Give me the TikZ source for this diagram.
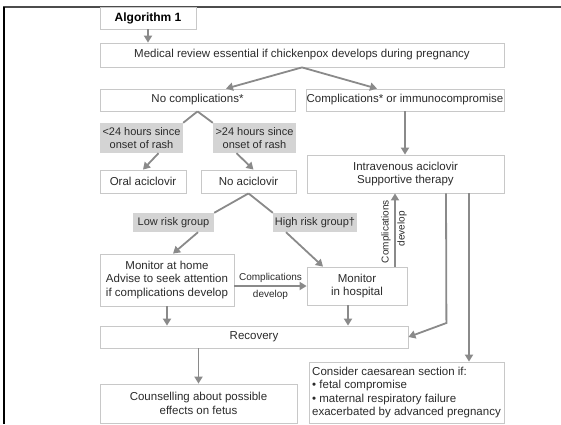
\documentclass[tikz,border=0pt]{standalone}
\usepackage{fontspec}
\setmainfont{Liberation Sans}
\usetikzlibrary{arrows.meta,calc}
\definecolor{boxgray}{HTML}{C8C8C8}
\definecolor{shade}{HTML}{D4D4D4}
\definecolor{arrgray}{HTML}{8A8A8A}
\definecolor{txt}{HTML}{2A2A2A}
\begin{document}
\begin{tikzpicture}[x=1pt,y=-1pt,
  font=\fontsize{11.5}{13.6}\selectfont, text=txt,
  box/.style={draw=boxgray, line width=0.8pt, inner sep=0pt, align=center},
  shbox/.style={fill=shade, inner sep=0pt, align=center, font=\fontsize{11}{13}\selectfont},
  arr/.style={draw=arrgray, line width=1.8pt, -{Triangle[length=7pt,width=8pt]}},
  ln/.style={draw=arrgray, line width=1.8pt},
  lab/.style={font=\fontsize{10}{11}\selectfont, inner sep=0pt}]
\useasboundingbox (0,0) rectangle (561,424);
% frame
\draw[black!70, line width=1.5pt] (3,7) -- (561,7);
\draw[black, line width=2pt] (4,7) -- (4,424);
% nodes
\node[box, minimum width=96pt, minimum height=22pt, font=\fontsize{12}{14}\selectfont\bfseries, text=black] (alg) at (148,18) {Algorithm 1};
\node[box, minimum width=404pt, minimum height=24pt] (med) at (302,55) {Medical review essential if chickenpox develops during pregnancy};
\node[box, minimum width=195pt, minimum height=22pt] (nocomp) at (197.5,100) {No complications*};
\node[box, minimum width=198pt, minimum height=22pt] (comp) at (405,100) {Complications* or immunocompromise};
\node[shbox, minimum width=83pt, minimum height=30pt] (lt24) at (141.5,138) {<24 hours since\\onset of rash};
\node[shbox, minimum width=83pt, minimum height=30pt] (gt24) at (254.5,138) {>24 hours since\\onset of rash};
\node[box, minimum width=86pt, minimum height=23pt] (oral) at (143,181.5) {Oral aciclovir};
\node[box, minimum width=95pt, minimum height=23pt] (noacv) at (248.5,181.5) {No aciclovir};
\node[box, minimum width=197pt, minimum height=38pt] (iv) at (405.5,174) {Intravenous aciclovir\\Supportive therapy};
\node[shbox, minimum width=81pt, minimum height=19pt] (low) at (173.5,222.5) {Low risk group};
\node[shbox, minimum width=84pt, minimum height=19pt] (high) at (315,222.5) {High risk group†};
\node[box, minimum width=134pt, minimum height=52pt] (home) at (167,280) {Monitor at home\\Advise to seek attention\\if complications develop};
\node[box, minimum width=100pt, minimum height=38pt] (hosp) at (357,286) {Monitor\\in hospital};
\node[box, minimum width=308pt, minimum height=22pt] (rec) at (254,337) {Recovery};
\node[box, minimum width=197pt, minimum height=39pt] (couns) at (198.5,403.5) {Counselling about possible\\effects on fetus};
\node[box, align=left, minimum width=195pt, minimum height=61pt] (cons) at (406.5,392.5) {Consider caesarean section if:\\• fetal compromise\\• maternal respiratory failure\\exacerbated by advanced pregnancy};
% connectors
\draw[arr] (alg.south) -- (alg.south |- med.north);
\draw[arr] (med.south) -- ($(nocomp.north)+(28.5,0)$);
\draw[arr] (med.south) -- ($(comp.north)+(-28,0)$);
\draw[ln] (nocomp.south) -- (lt24.north east);
\draw[ln] (nocomp.south) -- (gt24.north west);
\draw[arr] ($(lt24.south)+(17,0)$) -- (oral.north);
\draw[arr] ($(gt24.south)+(-18,0)$) -- ($(noacv.north)+(5,0)$);
\draw[arr] (comp.south) -- (comp.south |- iv.north);
\draw[ln] (noacv.south) -- (low.north east);
\draw[ln] (noacv.south) -- (high.north west);
\draw[arr] ($(low.south)+(24.5,0)$) -- ($(home.north)+(6,0)$);
\draw[arr] ($(high.south)+(-29,0)$) -- ($(hosp.north)+(-34,0)$);
\draw[arr] (home.east |- hosp.west) -- (hosp.west)
  node[lab, pos=0.5, above=2.5pt] {Complications}
  node[lab, pos=0.5, below=3.5pt] {develop};
\coordinate (hup) at ($(hosp.north)+(38,0)$);
\draw[arr] (hup) -- (hup |- iv.south);
\node[lab, rotate=90, anchor=center] (cd1) at ($(hup)+(-9,-35)$) {Complications};
\node[lab, rotate=90, anchor=center] (cd2) at ($(hup)+(7,-38)$) {develop};
\coordinate (ivl) at ($(iv.south)+(40.5,0)$);
\coordinate (ivr) at ($(iv.south)+(63.5,0)$);
\draw[arr] (ivl) -- ($(rec.east)+(38,-14)$) -- (rec.east);
\draw[arr] (ivr) -- (ivr |- cons.north);
\draw[arr] (home.south) -- (home.south |- rec.north);
\coordinate (hdn) at ($(hosp.south)+(-9,0)$);
\draw[arr] (hdn) -- (hdn |- rec.north);
\draw[arr] (couns.north |- rec.south) -- (couns.north);
\end{tikzpicture}
\end{document}
